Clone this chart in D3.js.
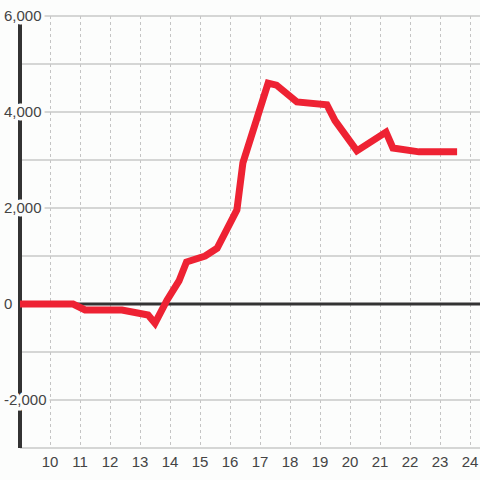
<!DOCTYPE html>
<html lang="en">
<head>
  <meta charset="utf-8">
  <script src="https://cdn.jsdelivr.net/npm/d3@7"></script>
  <style>
    body { margin: 0; background: #fcfdfc; }
    svg { display: block; font-family: "Liberation Sans", Arial, sans-serif; }
    .grid-y line { stroke: #c8c8c8; stroke-width: 1.5; }
    .grid-x line { stroke: #c4c4c4; stroke-width: 1; stroke-dasharray: 3,3; }
    .tick-label { fill: #444; font-size: 15px; }
  </style>
</head>
<body>
  <svg id="chart" width="480" height="480"></svg>
  <script>
    // values
    var xs = [9, 10.77, 11.17, 12.4, 13.27, 13.5, 13.9, 14.3, 14.55, 15.17, 15.57,
              16.23, 16.43, 17.27, 17.55, 18.23, 19.23, 19.5, 20.23, 21.2, 21.43, 22.3, 23.57];
    var ys = [0, 0, -125, -125, -230, -400, 80, 480, 875, 1000, 1160,
              1960, 2940, 4600, 4560, 4210, 4150, 3820, 3190, 3580, 3250, 3170, 3170];
    var yGrid = [-3000, -2000, -1000, 0, 1000, 2000, 3000, 4000, 5000, 6000];
    var yLabels = [-2000, 0, 2000, 4000, 6000];
    var xTicks = [10, 11, 12, 13, 14, 15, 16, 17, 18, 19, 20, 21, 22, 23, 24];

    var svg = d3.select("#chart");
    var padL = 20, padR = 480, padT = 16, padB = 448;

    var x = d3.scaleLinear().domain([9, 24 + 1 / 3]).range([padL, padR]);
    var y = d3.scaleLinear().domain([-3000, 6000]).range([padB, padT]);
    var fmt = d3.formatLocale({
      decimal: ".", thousands: ",", grouping: [3], currency: ["$", ""], minus: "-"
    }).format(",");

    svg.append("g").attr("class", "grid-x")
      .attr("transform", "translate(0.5,0)")
      .selectAll("line").data(xTicks).enter().append("line")
        .attr("x1", d => x(d)).attr("x2", d => x(d))
        .attr("y1", padT).attr("y2", padB);

    svg.append("g").attr("class", "grid-y")
      .selectAll("line").data(yGrid.filter(d => d !== 0)).enter().append("line")
        .attr("x1", padL).attr("x2", padR)
        .attr("y1", d => y(d)).attr("y2", d => y(d));

    // zero line
    svg.append("line")
      .attr("x1", padL).attr("x2", padR)
      .attr("y1", y(0)).attr("y2", y(0))
      .attr("stroke", "#333").attr("stroke-width", 3);

    // y axis line
    svg.append("line")
      .attr("x1", padL).attr("x2", padL)
      .attr("y1", padT).attr("y2", padB)
      .attr("stroke", "#333").attr("stroke-width", 4);

    // y labels with background halo
    var yl = svg.append("g").selectAll("g").data(yLabels).enter().append("g");
    yl.append("text")
      .attr("class", "tick-label")
      .attr("x", 4).attr("y", d => y(d))
      .attr("dy", "0.35em")
      .attr("stroke", "#fcfdfc").attr("stroke-width", 7)
      .text(d => fmt(d));
    yl.append("text")
      .attr("class", "tick-label")
      .attr("x", 4).attr("y", d => y(d))
      .attr("dy", "0.35em")
      .text(d => fmt(d));

    var line = d3.line()
      .x((d, i) => x(xs[i]))
      .y((d, i) => y(ys[i]));

    svg.append("path")
      .datum(xs)
      .attr("d", line)
      .attr("fill", "none")
      .attr("stroke", "#ee2233")
      .attr("stroke-width", 7);

    svg.append("g").selectAll("text").data(xTicks).enter().append("text")
      .attr("class", "tick-label")
      .attr("x", d => x(d)).attr("y", 467)
      .attr("text-anchor", "middle")
      .text(d => d);
  </script>
</body>
</html>
